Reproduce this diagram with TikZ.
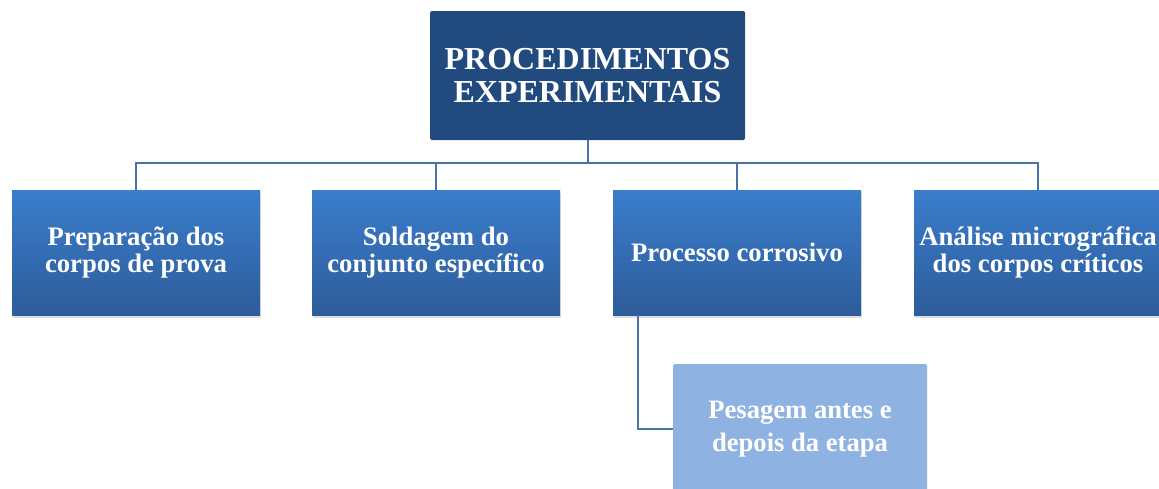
\documentclass[tikz,border=0pt]{standalone}
\usepackage{fontspec}
\setmainfont{Liberation Serif}
\usetikzlibrary{shadows}
\definecolor{topblue}{RGB}{33,74,126}
\definecolor{gtop}{RGB}{58,125,204}
\definecolor{gbot}{RGB}{45,92,154}
\definecolor{lightbox}{RGB}{142,179,226}
\definecolor{linkc}{RGB}{74,114,166}
\tikzset{
  rootbox/.style={fill=topblue, rounded corners=1.5pt, minimum width=315pt, minimum height=129pt, inner sep=0pt,
    text=white, align=center, font=\fontsize{32}{32.5}\selectfont\bfseries},
  childbox/.style={top color=gtop, bottom color=gbot, minimum width=248pt, minimum height=125pt, inner sep=0pt,
    text=white, align=center, font=\fontsize{26.7}{27.5}\selectfont\bfseries,
    drop shadow={opacity=0.25, shadow xshift=1pt, shadow yshift=-3pt}},
  subbox/.style={fill=lightbox, rounded corners=1.5pt, minimum width=254pt, minimum height=130pt, inner sep=0pt,
    text=white, align=center, font=\fontsize{26.6}{30}\selectfont\bfseries},
  link/.style={draw=linkc, line width=2pt}
}
\begin{document}
\begin{tikzpicture}[x=1pt,y=-1pt]
\useasboundingbox (0,0) rectangle (1159,488);
\clip (0,0) rectangle (1159,488);
\node[rootbox] (root) at (587.5,75.5) {PROCEDIMENTOS\\EXPERIMENTAIS};
\coordinate (bus) at (587.5,163);
\node[childbox] (c1) at (136,252.5) {Preparação dos\\corpos de prova};
\node[childbox] (c2) at (436,252.5) {Soldagem do\\conjunto específico};
\node[childbox] (c3) at (737,252.5) {Processo corrosivo};
\node[childbox] (c4) at (1038,252.5) {Análise micrográfica\\dos corpos críticos};
\node[subbox] (s1) at (800,429) {\raisebox{-2pt}{\begin{tabular}{@{}c@{}}Pesagem antes e\\[3pt]depois da etapa\end{tabular}}};
\draw[link] (root.south) -- (bus);
\draw[link] (c1.north) |- (bus) -| (c4.north);
\draw[link] (c2.north) -- (c2.north |- bus);
\draw[link] (c3.north) -- (c3.north |- bus);
\coordinate (branch) at ([xshift=25pt]c3.south west);
\draw[link] (branch) |- (s1.west);
\end{tikzpicture}
\end{document}
